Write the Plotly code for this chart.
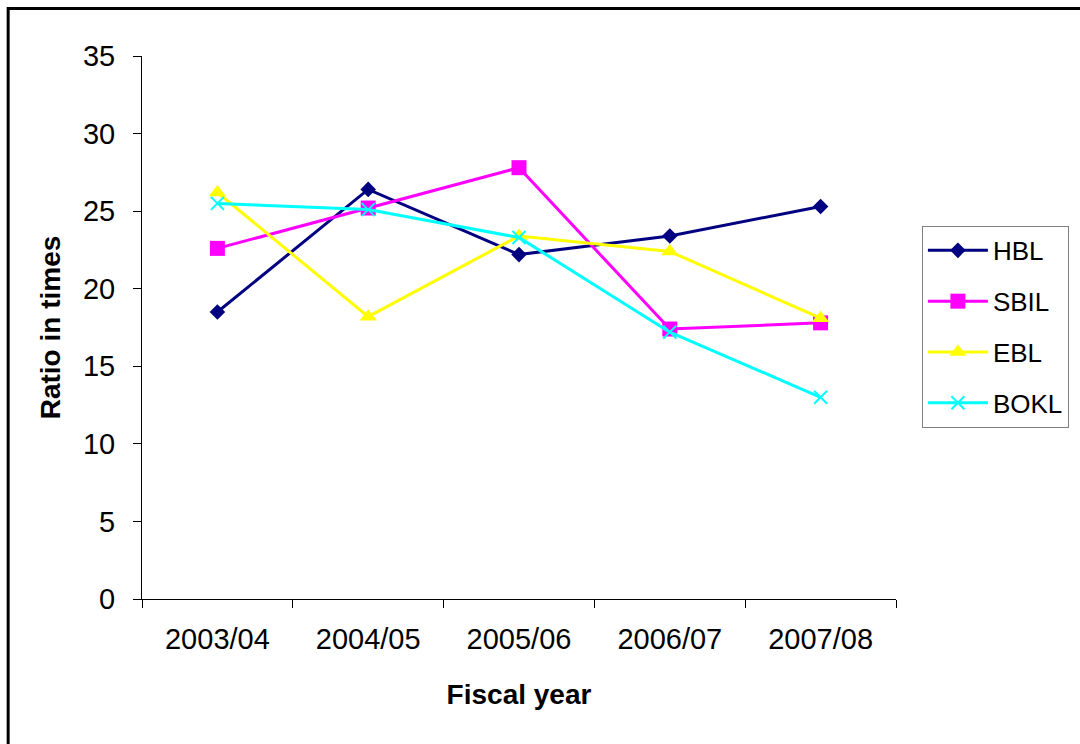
import plotly.graph_objects as go

# Fiscal years on the category axis
years = ["2003/04", "2004/05", "2005/06", "2006/07", "2007/08"]

# Ratio (in times) for each bank
hbl = [18.5, 26.4, 22.2, 23.4, 25.3]
sbil = [22.6, 25.2, 27.8, 17.4, 17.8]
ebl = [26.2, 18.2, 23.4, 22.4, 18.1]
bokl = [25.5, 25.1, 23.3, 17.2, 13.0]

FONT = "Liberation Sans, Arial, sans-serif"

fig = go.Figure()

fig.add_trace(go.Scatter(
    x=years, y=hbl, name="HBL", mode="lines+markers", legendgroup="hbl",
    line=dict(color="#000080", width=3),
    marker=dict(symbol="diamond", size=12, color="#000080"),
))
fig.add_trace(go.Scatter(
    x=years, y=sbil, name="SBIL", mode="lines+markers", legendgroup="sbil",
    line=dict(color="#FF00FF", width=3),
    marker=dict(symbol="square", size=15, color="#FF00FF"),
))
fig.add_trace(go.Scatter(
    x=years, y=ebl, name="EBL", mode="lines+markers", legendgroup="ebl",
    line=dict(color="#FFFF00", width=3),
    marker=dict(symbol="triangle-up", size=15, color="#FFFF00"),
))
fig.add_trace(go.Scatter(
    x=years, y=bokl, name="BOKL", mode="lines+markers", legendgroup="bokl",
    line=dict(color="#00FFFF", width=3),
    marker=dict(symbol="x-thin", size=13, color="#00FFFF",
                line=dict(color="#00FFFF", width=2)),
))

# outer chart frame (extends past the right and bottom edges)
fig.add_shape(
    type="rect", xref="paper", yref="paper",
    x0=-0.1775, x1=1.35, y0=-0.3, y1=1.0875,
    line=dict(color="black", width=3), layer="below",
)

fig.update_layout(
    width=1080, height=744,
    margin=dict(l=142, r=183, t=56, b=145),
    paper_bgcolor="white", plot_bgcolor="white",
    font=dict(family=FONT, color="black", size=28),
    showlegend=True,
    legend=dict(
        x=1.033, y=0.687, xanchor="left", yanchor="top",
        bordercolor="#808080", borderwidth=1,
        font=dict(size=26, family=FONT),
        bgcolor="white",
        itemwidth=60,
        tracegroupgap=14,
    ),
    xaxis=dict(
        type="category",
        range=[-0.5, 4.5],
        tickson="boundaries",
        ticks="outside", ticklen=8, tickcolor="black", tickwidth=1,
        showline=True, linecolor="black", linewidth=1,
        showgrid=False, zeroline=False,
        tickfont=dict(size=29, family=FONT),
        ticklabelstandoff=14,
        title=dict(text="<b>Fiscal year</b>", font=dict(size=28, family=FONT), standoff=30),
    ),
    yaxis=dict(
        range=[0, 35], dtick=5,
        ticks="outside", ticklen=8, tickcolor="black", tickwidth=1,
        showline=True, linecolor="black", linewidth=1,
        showgrid=False, zeroline=False,
        tickfont=dict(size=29, family=FONT),
        ticklabelstandoff=12,
        title=dict(text="<b>Ratio in times</b>", font=dict(size=28, family=FONT), standoff=14),
    ),
)

fig.write_html("out.html")
